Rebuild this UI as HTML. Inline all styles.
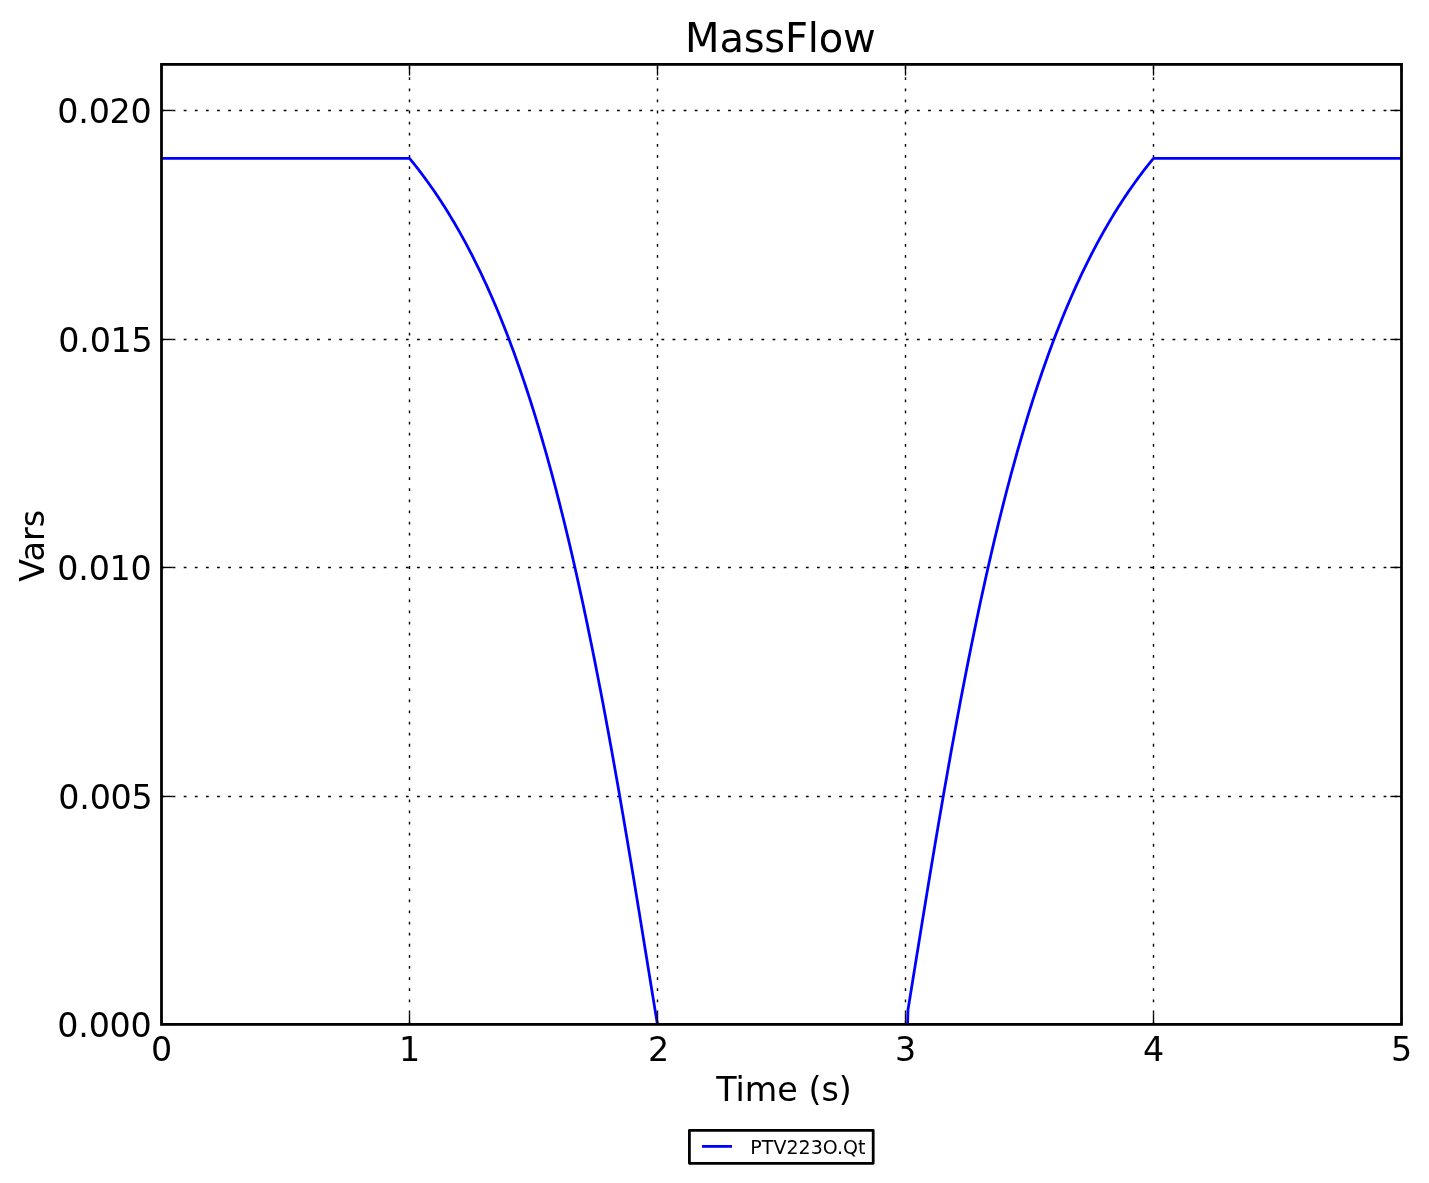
<!DOCTYPE html>
<html lang="en"><head><meta charset="utf-8"><title>MassFlow</title>
<style>html,body{margin:0;padding:0;background:#fff;}body{width:1429px;height:1183px;overflow:hidden;}svg{display:block;}text{font-family:"DejaVu Sans","Liberation Sans",sans-serif;fill:#000;}</style></head><body>
<svg width="1429" height="1183" viewBox="0 0 1429 1183">
<rect x="0" y="0" width="1429" height="1183" fill="#fff"/>
<defs><clipPath id="ax"><rect x="161.50" y="64.40" width="1240.00" height="960.00"/></clipPath></defs>
<g stroke="#000" stroke-width="1.39" stroke-dasharray="2.78 8.33" fill="none">
<line x1="409.50" y1="1024.40" x2="409.50" y2="64.40"/>
<line x1="657.50" y1="1024.40" x2="657.50" y2="64.40"/>
<line x1="905.50" y1="1024.40" x2="905.50" y2="64.40"/>
<line x1="1153.50" y1="1024.40" x2="1153.50" y2="64.40"/>
<line x1="161.50" y1="110.45" x2="1401.50" y2="110.45"/>
<line x1="161.50" y1="339.45" x2="1401.50" y2="339.45"/>
<line x1="161.50" y1="567.45" x2="1401.50" y2="567.45"/>
<line x1="161.50" y1="796.45" x2="1401.50" y2="796.45"/>
</g>
<path d="M161.50,158.30 L409.50,158.30 L410.74,159.81 L411.98,161.34 L413.22,162.88 L414.46,164.43 L415.70,166.00 L416.94,167.58 L418.18,169.17 L419.42,170.78 L420.66,172.41 L421.90,174.05 L423.14,175.71 L424.38,177.38 L425.62,179.07 L426.86,180.77 L428.10,182.49 L429.34,184.22 L430.58,185.97 L431.82,187.74 L433.06,189.52 L434.30,191.32 L435.54,193.14 L436.78,194.98 L438.02,196.83 L439.26,198.70 L440.50,200.59 L441.74,202.49 L442.98,204.41 L444.22,206.36 L445.46,208.32 L446.70,210.30 L447.94,212.30 L449.18,214.31 L450.42,216.35 L451.66,218.41 L452.90,220.48 L454.14,222.58 L455.38,224.70 L456.62,226.83 L457.86,228.99 L459.10,231.17 L460.34,233.37 L461.58,235.59 L462.82,237.84 L464.06,240.10 L465.30,242.39 L466.54,244.70 L467.78,247.04 L469.02,249.39 L470.26,251.77 L471.50,254.17 L472.74,256.60 L473.98,259.05 L475.22,261.53 L476.46,264.02 L477.70,266.55 L478.94,269.10 L480.18,271.67 L481.42,274.27 L482.66,276.90 L483.90,279.55 L485.14,282.23 L486.38,284.94 L487.62,287.67 L488.86,290.43 L490.10,293.22 L491.34,296.03 L492.58,298.88 L493.82,301.75 L495.06,304.65 L496.30,307.58 L497.54,310.54 L498.78,313.53 L500.02,316.55 L501.26,319.60 L502.50,322.68 L503.74,325.79 L504.98,328.94 L506.22,332.11 L507.46,335.32 L508.70,338.56 L509.94,341.83 L511.18,345.14 L512.42,348.48 L513.66,351.85 L514.90,355.25 L516.14,358.70 L517.38,362.17 L518.62,365.68 L519.86,369.23 L521.10,372.81 L522.34,376.43 L523.58,380.08 L524.82,383.77 L526.06,387.50 L527.30,391.26 L528.54,395.07 L529.78,398.91 L531.02,402.79 L532.26,406.71 L533.50,410.66 L534.74,414.66 L535.98,418.70 L537.22,422.78 L538.46,426.89 L539.70,431.05 L540.94,435.25 L542.18,439.49 L543.42,443.77 L544.66,448.10 L545.90,452.47 L547.14,456.87 L548.38,461.33 L549.62,465.82 L550.86,470.36 L552.10,474.95 L553.34,479.58 L554.58,484.25 L555.82,488.97 L557.06,493.73 L558.30,498.54 L559.54,503.39 L560.78,508.29 L562.02,513.24 L563.26,518.23 L564.50,523.27 L565.74,528.35 L566.98,533.49 L568.22,538.67 L569.46,543.90 L570.70,549.17 L571.94,554.50 L573.18,559.87 L574.42,565.29 L575.66,570.75 L576.90,576.27 L578.14,581.84 L579.38,587.45 L580.62,593.11 L581.86,598.82 L583.10,604.58 L584.34,610.39 L585.58,616.25 L586.82,622.16 L588.06,628.11 L589.30,634.12 L590.54,640.17 L591.78,646.27 L593.02,652.42 L594.26,658.62 L595.50,664.87 L596.74,671.16 L597.98,677.51 L599.22,683.90 L600.46,690.34 L601.70,696.82 L602.94,703.36 L604.18,709.93 L605.42,716.56 L606.66,723.23 L607.90,729.95 L609.14,736.71 L610.38,743.51 L611.62,750.36 L612.86,757.26 L614.10,764.19 L615.34,771.17 L616.58,778.19 L617.82,785.25 L619.06,792.35 L620.30,799.48 L621.54,806.66 L622.78,813.87 L624.02,821.12 L625.26,828.41 L626.50,835.73 L627.74,843.08 L628.98,850.46 L630.22,857.88 L631.46,865.32 L632.70,872.79 L633.94,880.29 L635.18,887.82 L636.42,895.36 L637.66,902.93 L638.90,910.52 L640.14,918.12 L641.38,925.75 L642.62,933.38 L643.86,941.02 L645.10,948.68 L646.34,956.34 L647.58,964.00 L648.82,971.65 L650.06,979.30 L651.30,986.94 L652.54,994.56 L653.78,1002.15 L655.02,1009.69 L656.26,1017.15 L657.50,1024.40 L905.50,1024.40 L907.60,1024.40 L907.98,1009.69 L909.22,1002.15 L910.46,994.56 L911.70,986.94 L912.94,979.30 L914.18,971.65 L915.42,964.00 L916.66,956.34 L917.90,948.68 L919.14,941.02 L920.38,933.38 L921.62,925.75 L922.86,918.12 L924.10,910.52 L925.34,902.93 L926.58,895.36 L927.82,887.82 L929.06,880.29 L930.30,872.79 L931.54,865.32 L932.78,857.88 L934.02,850.46 L935.26,843.08 L936.50,835.73 L937.74,828.41 L938.98,821.12 L940.22,813.87 L941.46,806.66 L942.70,799.48 L943.94,792.35 L945.18,785.25 L946.42,778.19 L947.66,771.17 L948.90,764.19 L950.14,757.26 L951.38,750.36 L952.62,743.51 L953.86,736.71 L955.10,729.95 L956.34,723.23 L957.58,716.56 L958.82,709.93 L960.06,703.36 L961.30,696.82 L962.54,690.34 L963.78,683.90 L965.02,677.51 L966.26,671.16 L967.50,664.87 L968.74,658.62 L969.98,652.42 L971.22,646.27 L972.46,640.17 L973.70,634.12 L974.94,628.11 L976.18,622.16 L977.42,616.25 L978.66,610.39 L979.90,604.58 L981.14,598.82 L982.38,593.11 L983.62,587.45 L984.86,581.84 L986.10,576.27 L987.34,570.75 L988.58,565.29 L989.82,559.87 L991.06,554.50 L992.30,549.17 L993.54,543.90 L994.78,538.67 L996.02,533.49 L997.26,528.35 L998.50,523.27 L999.74,518.23 L1000.98,513.24 L1002.22,508.29 L1003.46,503.39 L1004.70,498.54 L1005.94,493.73 L1007.18,488.97 L1008.42,484.25 L1009.66,479.58 L1010.90,474.95 L1012.14,470.36 L1013.38,465.82 L1014.62,461.33 L1015.86,456.87 L1017.10,452.47 L1018.34,448.10 L1019.58,443.77 L1020.82,439.49 L1022.06,435.25 L1023.30,431.05 L1024.54,426.89 L1025.78,422.78 L1027.02,418.70 L1028.26,414.66 L1029.50,410.66 L1030.74,406.71 L1031.98,402.79 L1033.22,398.91 L1034.46,395.07 L1035.70,391.26 L1036.94,387.50 L1038.18,383.77 L1039.42,380.08 L1040.66,376.43 L1041.90,372.81 L1043.14,369.23 L1044.38,365.68 L1045.62,362.17 L1046.86,358.70 L1048.10,355.25 L1049.34,351.85 L1050.58,348.48 L1051.82,345.14 L1053.06,341.83 L1054.30,338.56 L1055.54,335.32 L1056.78,332.11 L1058.02,328.94 L1059.26,325.79 L1060.50,322.68 L1061.74,319.60 L1062.98,316.55 L1064.22,313.53 L1065.46,310.54 L1066.70,307.58 L1067.94,304.65 L1069.18,301.75 L1070.42,298.88 L1071.66,296.03 L1072.90,293.22 L1074.14,290.43 L1075.38,287.67 L1076.62,284.94 L1077.86,282.23 L1079.10,279.55 L1080.34,276.90 L1081.58,274.27 L1082.82,271.67 L1084.06,269.10 L1085.30,266.55 L1086.54,264.02 L1087.78,261.53 L1089.02,259.05 L1090.26,256.60 L1091.50,254.17 L1092.74,251.77 L1093.98,249.39 L1095.22,247.04 L1096.46,244.70 L1097.70,242.39 L1098.94,240.10 L1100.18,237.84 L1101.42,235.59 L1102.66,233.37 L1103.90,231.17 L1105.14,228.99 L1106.38,226.83 L1107.62,224.70 L1108.86,222.58 L1110.10,220.48 L1111.34,218.41 L1112.58,216.35 L1113.82,214.31 L1115.06,212.30 L1116.30,210.30 L1117.54,208.32 L1118.78,206.36 L1120.02,204.41 L1121.26,202.49 L1122.50,200.59 L1123.74,198.70 L1124.98,196.83 L1126.22,194.98 L1127.46,193.14 L1128.70,191.32 L1129.94,189.52 L1131.18,187.74 L1132.42,185.97 L1133.66,184.22 L1134.90,182.49 L1136.14,180.77 L1137.38,179.07 L1138.62,177.38 L1139.86,175.71 L1141.10,174.05 L1142.34,172.41 L1143.58,170.78 L1144.82,169.17 L1146.06,167.58 L1147.30,166.00 L1148.54,164.43 L1149.78,162.88 L1151.02,161.34 L1152.26,159.81 L1153.50,158.30 L1401.50,158.30" fill="none" stroke="#0000ff" stroke-width="2.78" stroke-linejoin="round" clip-path="url(#ax)"/>
<g stroke="#000" stroke-width="1.39" fill="none">
<line x1="161.50" y1="1024.40" x2="161.50" y2="1013.30"/>
<line x1="161.50" y1="64.40" x2="161.50" y2="75.50"/>
<line x1="409.50" y1="1024.40" x2="409.50" y2="1013.30"/>
<line x1="409.50" y1="64.40" x2="409.50" y2="75.50"/>
<line x1="657.50" y1="1024.40" x2="657.50" y2="1013.30"/>
<line x1="657.50" y1="64.40" x2="657.50" y2="75.50"/>
<line x1="905.50" y1="1024.40" x2="905.50" y2="1013.30"/>
<line x1="905.50" y1="64.40" x2="905.50" y2="75.50"/>
<line x1="1153.50" y1="1024.40" x2="1153.50" y2="1013.30"/>
<line x1="1153.50" y1="64.40" x2="1153.50" y2="75.50"/>
<line x1="1401.50" y1="1024.40" x2="1401.50" y2="1013.30"/>
<line x1="1401.50" y1="64.40" x2="1401.50" y2="75.50"/>
<line x1="161.50" y1="110.45" x2="172.60" y2="110.45"/>
<line x1="1401.50" y1="110.45" x2="1390.40" y2="110.45"/>
<line x1="161.50" y1="339.45" x2="172.60" y2="339.45"/>
<line x1="1401.50" y1="339.45" x2="1390.40" y2="339.45"/>
<line x1="161.50" y1="567.45" x2="172.60" y2="567.45"/>
<line x1="1401.50" y1="567.45" x2="1390.40" y2="567.45"/>
<line x1="161.50" y1="796.45" x2="172.60" y2="796.45"/>
<line x1="1401.50" y1="796.45" x2="1390.40" y2="796.45"/>
<line x1="161.50" y1="1024.40" x2="172.60" y2="1024.40"/>
<line x1="1401.50" y1="1024.40" x2="1390.40" y2="1024.40"/>
</g>
<rect x="161.50" y="64.40" width="1240.00" height="960.00" fill="none" stroke="#000" stroke-width="2.78" stroke-linejoin="miter"/>
<text x="161.55" y="1061.40" font-size="33.33" text-anchor="middle">0</text>
<text x="409.55" y="1061.40" font-size="33.33" text-anchor="middle">1</text>
<text x="658.55" y="1061.40" font-size="33.33" text-anchor="middle">2</text>
<text x="905.55" y="1061.40" font-size="33.33" text-anchor="middle">3</text>
<text x="1153.55" y="1061.40" font-size="33.33" text-anchor="middle">4</text>
<text x="1401.55" y="1061.40" font-size="33.33" text-anchor="middle">5</text>
<text x="151.60" y="123.05" font-size="33.33" letter-spacing="-0.22" text-anchor="end">0.020</text>
<text x="152.60" y="352.05" font-size="33.33" letter-spacing="-0.22" text-anchor="end">0.015</text>
<text x="151.60" y="580.05" font-size="33.33" letter-spacing="-0.22" text-anchor="end">0.010</text>
<text x="152.60" y="809.05" font-size="33.33" letter-spacing="-0.22" text-anchor="end">0.005</text>
<text x="151.60" y="1037.00" font-size="33.33" letter-spacing="-0.22" text-anchor="end">0.000</text>
<text x="780.30" y="52.10" font-size="40" letter-spacing="-0.2" text-anchor="middle">MassFlow</text>
<text x="784.00" y="1100.90" font-size="33.33" text-anchor="middle">Time (s)</text>
<text transform="translate(44.40,545.80) rotate(-90)" font-size="33.33" text-anchor="middle">Vars</text>
<rect x="689.4" y="1130.3" width="183.8" height="33" fill="#fff" stroke="#000" stroke-width="2.78" stroke-linejoin="round"/>
<line x1="702" y1="1146.4" x2="732" y2="1146.4" stroke="#0000ff" stroke-width="2.78"/>
<text x="750.3" y="1153.8" font-size="19.05">PTV223O.Qt</text>
</svg></body></html>
